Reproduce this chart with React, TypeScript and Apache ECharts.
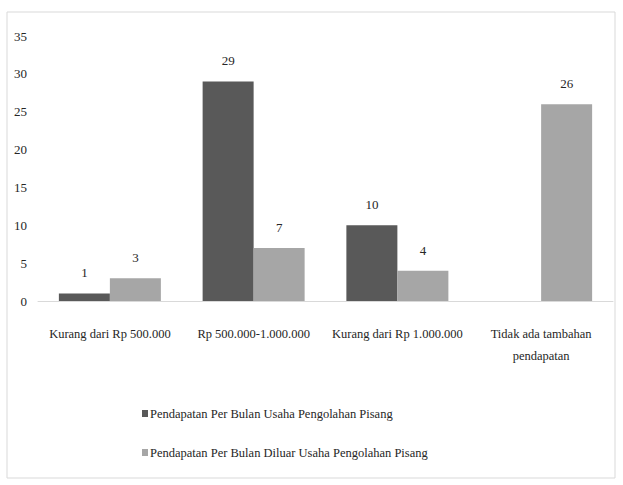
import React, { useEffect, useRef } from "react";
import * as echarts from "echarts";

const categories = [
  "Kurang dari Rp 500.000",
  "Rp 500.000-1.000.000",
  "Kurang dari Rp 1.000.000",
  "Tidak ada tambahan\npendapatan",
];
const seriesNames = [
  "Pendapatan Per Bulan Usaha Pengolahan Pisang",
  "Pendapatan Per Bulan Diluar Usaha Pengolahan Pisang",
];
const usahaValues: (number | null)[] = [1, 29, 10, null];
const diluarValues: (number | null)[] = [3, 7, 4, 26];

const FONT = "Liberation Serif";

export default function App() {
  const ref = useRef<HTMLDivElement>(null);
  useEffect(() => {
    if (!ref.current) return;
    const chart = echarts.init(ref.current, undefined, { renderer: "svg" });
    const labelCfg = {
      show: true,
      position: "top" as const,
      distance: 14,
      fontFamily: FONT,
      fontSize: 13,
      color: "#262626",
    };
    chart.setOption({
      animation: false,
      backgroundColor: "#fff",
      graphic: [
        {
          type: "rect",
          shape: { x: 7, y: 12, width: 608, height: 466 },
          style: { fill: "none", stroke: "#d9d9d9", lineWidth: 1 },
          silent: true,
        },
      ],
      grid: { left: 38, right: 10, top: 36, bottom: 184, containLabel: false },
      xAxis: {
        type: "category",
        data: categories,
        axisLine: { show: true, lineStyle: { color: "#d9d9d9", width: 1 } },
        axisTick: { show: false },
        axisLabel: {
          interval: 0,
          fontFamily: FONT,
          fontSize: 12.5,
          color: "#262626",
          margin: 22,
          lineHeight: 22,
        },
      },
      yAxis: {
        type: "value",
        min: 0,
        max: 35,
        interval: 5,
        splitLine: { show: false },
        axisLine: { show: false },
        axisTick: { show: false },
        axisLabel: {
          fontFamily: FONT,
          fontSize: 13,
          color: "#262626",
          margin: 11,
        },
      },
      legend: {
        orient: "vertical",
        left: 137,
        top: 402,
        itemWidth: 6,
        itemHeight: 7,
        itemGap: 26,
        icon: "rect",
        textStyle: { fontFamily: FONT, fontSize: 12.5, color: "#262626", padding: [0, 0, 0, -3] },
        data: seriesNames,
      },
      series: [
        {
          name: seriesNames[0],
          type: "bar",
          data: usahaValues,
          barWidth: 51,
          barGap: "0%",
          itemStyle: { color: "#595959" },
          label: labelCfg,
        },
        {
          name: seriesNames[1],
          type: "bar",
          data: diluarValues,
          barWidth: 51,
          barGap: "0%",
          itemStyle: { color: "#a6a6a6" },
          label: labelCfg,
        },
      ],
    });
    return () => chart.dispose();
  }, []);
  return (
    <div
      ref={ref}
      style={{ position: "absolute", left: 0, top: 0, width: 623, height: 485 }}
    />
  );
}
